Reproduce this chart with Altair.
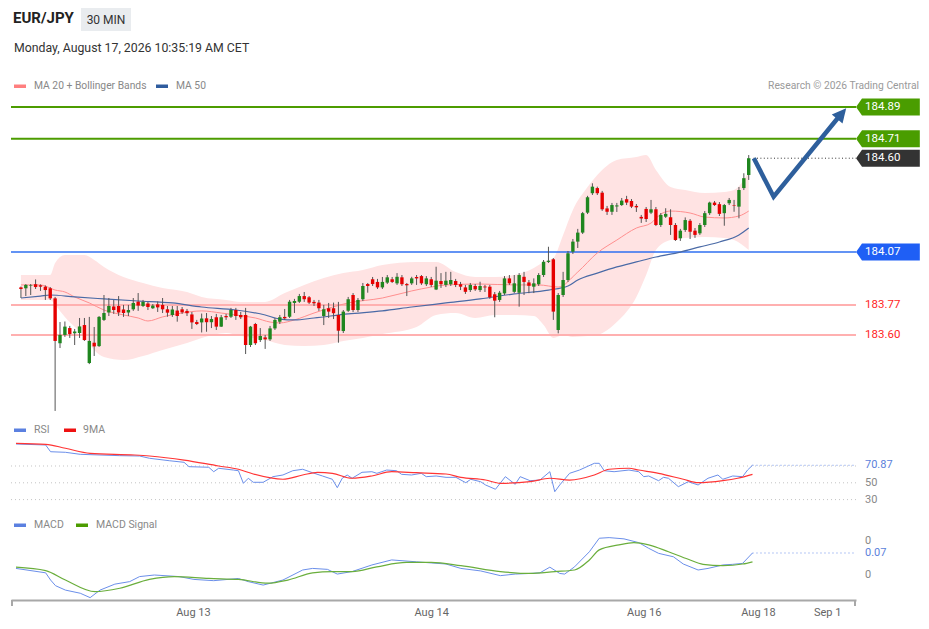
import altair as alt
import pandas as pd

# ---------------- data ----------------
opens = [
    183.869, 183.864, 183.877, 183.887, 183.881, 183.873, 183.864, 183.807, 183.553, 183.600,
    183.639, 183.609, 183.611, 183.656, 183.441, 183.556, 183.537, 183.685, 183.727, 183.761,
    183.764, 183.744, 183.727, 183.745, 183.788, 183.764, 183.778, 183.751, 183.773, 183.770,
    183.745, 183.713, 183.738, 183.745, 183.736, 183.716, 183.673, 183.671, 183.694, 183.672,
    183.700, 183.647, 183.707, 183.703, 183.741, 183.713, 183.713, 183.543, 183.662, 183.571,
    183.586, 183.575, 183.637, 183.675, 183.702, 183.703, 183.781, 183.788, 183.820, 183.813,
    183.787, 183.783, 183.707, 183.751, 183.751, 183.713, 183.622, 183.737, 183.826, 183.741,
    183.802, 183.888, 183.915, 183.900, 183.869, 183.896, 183.915, 183.892, 183.926, 183.888,
    183.892, 183.928, 183.933, 183.887, 183.915, 183.857, 183.905, 183.883, 183.887, 183.905,
    183.887, 183.869, 183.854, 183.877, 183.854, 183.874, 183.873, 183.830, 183.798, 183.835,
    183.920, 183.844, 183.839, 183.929, 183.897, 183.873, 183.887, 183.939, 184.013, 184.028,
    183.628, 183.826, 183.911, 184.071, 184.128, 184.179, 184.292, 184.402, 184.431, 184.405,
    184.316, 184.297, 184.327, 184.335, 184.368, 184.358, 184.330, 184.268, 184.313, 184.292,
    184.311, 184.222, 184.269, 184.266, 184.222, 184.147, 184.194, 184.246, 184.190, 184.175,
    184.222, 184.289, 184.349, 184.340, 184.289, 184.345, 184.333, 184.326, 184.431, 184.505,
]
highs = [
    183.874, 183.888, 183.888, 183.914, 183.886, 183.880, 183.871, 183.815, 183.673, 183.676,
    183.651, 183.634, 183.696, 183.696, 183.702, 183.645, 183.707, 183.826, 183.809, 183.798,
    183.820, 183.770, 183.770, 183.809, 183.837, 183.798, 183.787, 183.775, 183.789, 183.809,
    183.764, 183.764, 183.764, 183.758, 183.747, 183.730, 183.685, 183.721, 183.724, 183.707,
    183.719, 183.713, 183.719, 183.753, 183.753, 183.730, 183.753, 183.651, 183.668, 183.639,
    183.600, 183.651, 183.696, 183.713, 183.747, 183.798, 183.804, 183.832, 183.843, 183.820,
    183.798, 183.798, 183.770, 183.781, 183.783, 183.787, 183.741, 183.815, 183.837, 183.809,
    183.894, 183.894, 183.928, 183.917, 183.928, 183.939, 183.928, 183.950, 183.939, 183.894,
    183.929, 183.939, 183.939, 183.933, 183.928, 183.986, 183.950, 183.957, 183.957, 183.917,
    183.900, 183.883, 183.894, 183.888, 183.901, 183.883, 183.883, 183.843, 183.849, 183.933,
    183.939, 183.939, 183.950, 183.957, 183.911, 183.920, 183.950, 184.024, 184.099, 184.035,
    183.837, 183.957, 184.075, 184.143, 184.200, 184.296, 184.387, 184.458, 184.439, 184.415,
    184.330, 184.347, 184.347, 184.375, 184.387, 184.369, 184.341, 184.279, 184.324, 184.364,
    184.324, 184.290, 184.317, 184.311, 184.233, 184.200, 184.265, 184.256, 184.205, 184.233,
    184.301, 184.354, 184.358, 184.352, 184.341, 184.375, 184.364, 184.437, 184.515, 184.618,
]
lows = [
    183.809, 183.820, 183.826, 183.860, 183.849, 183.798, 183.798, 183.170, 183.526, 183.589,
    183.583, 183.543, 183.583, 183.566, 183.435, 183.481, 183.532, 183.679, 183.707, 183.719,
    183.707, 183.702, 183.707, 183.736, 183.736, 183.758, 183.741, 183.747, 183.730, 183.724,
    183.703, 183.702, 183.675, 183.719, 183.707, 183.634, 183.656, 183.614, 183.618, 183.639,
    183.628, 183.645, 183.685, 183.696, 183.685, 183.690, 183.492, 183.532, 183.543, 183.560,
    183.521, 183.566, 183.628, 183.662, 183.685, 183.696, 183.724, 183.781, 183.787, 183.775,
    183.764, 183.736, 183.656, 183.696, 183.690, 183.556, 183.611, 183.730, 183.730, 183.730,
    183.792, 183.839, 183.877, 183.860, 183.860, 183.888, 183.894, 183.883, 183.877, 183.820,
    183.883, 183.883, 183.883, 183.877, 183.871, 183.854, 183.866, 183.871, 183.877, 183.871,
    183.854, 183.832, 183.843, 183.849, 183.843, 183.843, 183.804, 183.700, 183.787, 183.826,
    183.883, 183.837, 183.760, 183.826, 183.836, 183.837, 183.877, 183.928, 184.007, 183.685,
    183.609, 183.815, 183.900, 184.058, 184.092, 184.171, 184.284, 184.392, 184.392, 184.302,
    184.279, 184.279, 184.296, 184.330, 184.335, 184.318, 184.296, 184.234, 184.239, 184.284,
    184.216, 184.211, 184.262, 184.166, 184.132, 184.132, 184.183, 184.143, 184.149, 184.166,
    184.211, 184.279, 184.330, 184.273, 184.218, 184.335, 184.297, 184.260, 184.420, 184.477,
]
closes = [
    183.860, 183.883, 183.880, 183.871, 183.873, 183.854, 183.807, 183.566, 183.600, 183.647,
    183.605, 183.620, 183.648, 183.571, 183.566, 183.535, 183.702, 183.724, 183.764, 183.741,
    183.727, 183.724, 183.741, 183.781, 183.766, 183.787, 183.758, 183.766, 183.756, 183.745,
    183.726, 183.744, 183.707, 183.728, 183.723, 183.671, 183.662, 183.693, 183.672, 183.690,
    183.647, 183.700, 183.700, 183.741, 183.707, 183.700, 183.543, 183.647, 183.553, 183.594,
    183.575, 183.637, 183.685, 183.700, 183.694, 183.788, 183.792, 183.820, 183.802, 183.783,
    183.779, 183.751, 183.745, 183.732, 183.723, 183.624, 183.732, 183.802, 183.741, 183.798,
    183.877, 183.877, 183.888, 183.869, 183.900, 183.926, 183.900, 183.929, 183.887, 183.881,
    183.920, 183.920, 183.892, 183.920, 183.883, 183.907, 183.887, 183.907, 183.911, 183.883,
    183.873, 183.844, 183.883, 183.858, 183.877, 183.869, 183.813, 183.794, 183.839, 183.920,
    183.892, 183.892, 183.939, 183.900, 183.878, 183.892, 183.939, 184.014, 184.020, 183.732,
    183.826, 183.911, 184.062, 184.128, 184.179, 184.289, 184.379, 184.439, 184.402, 184.311,
    184.297, 184.335, 184.333, 184.360, 184.349, 184.326, 184.322, 184.259, 184.256, 184.311,
    184.222, 184.279, 184.285, 184.222, 184.137, 184.190, 184.250, 184.184, 184.166, 184.222,
    184.289, 184.349, 184.335, 184.285, 184.335, 184.364, 184.330, 184.420, 184.487, 184.600,
]

band_idx = [0, 6, 7, 9, 13, 15, 17, 21, 25, 29, 34, 37, 42, 45, 50, 54, 58, 62, 66, 70, 74, 81,
            85, 89, 93, 97, 101, 105, 107, 109, 111, 113, 116, 118, 122, 126, 128, 130, 133, 136,
            140, 144, 146, 149]
band_upper = [183.939, 183.939, 184.007, 184.052, 184.052, 184.024, 183.985, 183.928, 183.894,
              183.866, 183.843, 183.815, 183.798, 183.787, 183.787, 183.837, 183.883, 183.922,
              183.950, 183.968, 183.996, 184.013, 184.013, 183.956, 183.928, 183.928, 183.939,
              183.979, 184.013, 184.035, 184.166, 184.307, 184.437, 184.505, 184.590, 184.607,
              184.618, 184.533, 184.437, 184.420, 184.403, 184.409, 184.420, 184.522]
band_lower = [183.798, 183.798, 183.770, 183.702, 183.589, 183.515, 183.475, 183.458, 183.481,
              183.515, 183.554, 183.583, 183.611, 183.594, 183.571, 183.543, 183.537, 183.543,
              183.566, 183.583, 183.605, 183.645, 183.713, 183.724, 183.696, 183.713, 183.713,
              183.707, 183.656, 183.583, 183.600, 183.589, 183.594, 183.600, 183.673, 183.815,
              183.939, 184.081, 184.137, 184.149, 184.154, 184.149, 184.137, 184.081]

ma20_idx = [0, 4, 7, 9, 11, 14, 17, 21, 24, 26, 29, 33, 37, 41, 44, 48, 51, 53, 56, 60, 67, 74,
            80, 84, 87, 94, 101, 106, 110, 114, 118, 122, 126, 129, 131, 133, 137, 140, 144, 147, 149]
ma20 = [183.883, 183.883, 183.854, 183.843, 183.815, 183.781, 183.741, 183.713, 183.696, 183.679,
        183.702, 183.724, 183.736, 183.724, 183.713, 183.696, 183.673, 183.668, 183.685, 183.724,
        183.781, 183.809, 183.849, 183.871, 183.883, 183.888, 183.883, 183.883, 183.871, 183.956,
        184.064, 184.137, 184.205, 184.233, 184.284, 184.301, 184.290, 184.267, 184.262, 184.273,
        184.301]

ma50_idx = [0, 4, 6, 11, 17, 24, 31, 37, 44, 50, 53, 56, 60, 67, 74, 80, 87, 94, 101, 108, 112,
            114, 118, 122, 126, 130, 135, 139, 143, 147, 149]
ma50 = [183.809, 183.820, 183.826, 183.815, 183.804, 183.792, 183.781, 183.758, 183.741, 183.713,
        183.690, 183.685, 183.696, 183.719, 183.736, 183.758, 183.781, 183.804, 183.832, 183.854,
        183.877, 183.911, 183.950, 183.985, 184.013, 184.041, 184.069, 184.098, 184.126, 184.166,
        184.205]

level_prices = [184.89, 184.71, 184.60, 184.07, 183.77, 183.60]
level_texts = ["184.89", "184.71", "184.60", "184.07", "183.77", "183.60"]
level_kinds = ["resistance", "resistance", "last", "pivot", "support", "support"]

arrow_idx = [150.05, 154.1, 167.5]
arrow_price = [184.600, 184.382, 184.836]
arrow_head_idx = [167.93]
arrow_head_price = [184.849]

rsi_idx = [0, 6, 7, 10, 13, 21, 25, 27, 31, 34, 35, 39, 40, 41, 44, 45, 46, 47, 48, 50, 52, 54,
           56, 58, 60, 62, 64, 65, 66, 67, 68, 70, 72, 73, 75, 77, 78, 80, 82, 83, 85, 87, 89, 91,
           92, 94, 95, 97, 99, 101, 102, 104, 106, 108, 109, 110, 112, 114, 117, 118, 119, 121,
           124, 126, 127, 128, 130, 131, 132, 134, 136, 138, 140, 142, 143, 145, 147, 148, 149]
rsi = [96.2, 95.0, 87.0, 86.3, 83.9, 82.3, 81.9, 79.2, 76.3, 74.4, 69.2, 68.5, 63.2, 67.3, 65.2,
       64.4, 49.4, 55.4, 50.6, 50.6, 57.3, 59.3, 64.4, 66.1, 62.0, 58.1, 54.2, 44.2, 55.4, 59.3,
       55.4, 62.5, 63.2, 61.3, 65.2, 64.4, 60.1, 59.3, 61.3, 57.3, 58.1, 56.5, 56.5, 50.1, 54.2,
       51.3, 47.4, 42.3, 57.3, 48.2, 57.3, 52.5, 53.3, 63.2, 39.4, 47.4, 61.3, 65.2, 73.2, 73.2,
       64.4, 63.2, 65.2, 63.2, 57.3, 58.1, 52.5, 56.5, 55.4, 45.4, 51.3, 47.4, 55.4, 59.3, 54.2,
       58.1, 57.3, 65.2, 70.87]
rsima_idx = [0, 6, 10, 15, 24, 27, 34, 41, 45, 48, 54, 58, 61, 64, 68, 72, 76, 81, 87, 90, 95,
             98, 104, 108, 112, 117, 120, 124, 126, 130, 135, 138, 143, 146, 149]
rsima = [97.0, 95.8, 91.1, 85.1, 83.1, 81.9, 77.1, 70.0, 66.1, 60.5, 54.2, 59.3, 62.5, 61.3, 55.4,
         58.1, 63.2, 62.0, 60.5, 56.5, 53.3, 49.4, 51.3, 55.4, 53.3, 59.3, 66.1, 67.3, 65.2, 61.3,
         54.2, 50.1, 52.5, 55.4, 60.1]
rsi_levels = [70, 50, 30]
rsi_label_vals = [70.87, 50, 30]
rsi_label_texts = ["70.87", "50", "30"]
rsi_label_kinds = ["last", "level", "level"]

macd_idx = [0, 6, 7, 8, 10, 13, 15, 17, 20, 23, 25, 28, 33, 36, 40, 45, 47, 50, 54, 58, 60, 63,
            65, 68, 72, 76, 81, 87, 90, 94, 98, 101, 104, 106, 108, 110, 111, 113, 116, 118, 120,
            123, 126, 128, 130, 133, 135, 138, 140, 143, 145, 147, 149]
macd = [0.021, 0.007, -0.016, -0.034, -0.048, -0.058, -0.072, -0.048, -0.029, -0.021, -0.005,
        0.000, -0.005, -0.014, -0.018, -0.011, -0.021, -0.032, -0.016, 0.016, 0.021, 0.018, 0.003,
        0.011, 0.032, 0.048, 0.042, 0.035, 0.021, 0.013, -0.002, 0.003, 0.005, 0.007, 0.025,
        0.005, 0.003, 0.026, 0.074, 0.117, 0.119, 0.115, 0.103, 0.085, 0.069, 0.058, 0.035,
        0.016, 0.021, 0.032, 0.034, 0.037, 0.070]
sig_idx = [0, 6, 10, 16, 21, 27, 32, 39, 45, 51, 55, 60, 64, 68, 73, 79, 84, 90, 98, 104, 109,
           113, 116, 118, 122, 125, 128, 132, 136, 139, 143, 147, 149]
sig = [0.025, 0.014, -0.016, -0.053, -0.042, -0.014, -0.005, -0.011, -0.014, -0.026, -0.016,
       0.007, 0.011, 0.011, 0.026, 0.040, 0.040, 0.030, 0.011, 0.005, 0.011, 0.016, 0.048, 0.080,
       0.096, 0.103, 0.096, 0.074, 0.050, 0.034, 0.030, 0.035, 0.042]
macd_label_vals = [0.108, 0.07, 0.0]
macd_label_texts = ["0", "0.07", "0"]
macd_label_kinds = ["level", "last", "level"]

tick_pos = [35.8, 84.0, 127.0, 150.1, 164.1]
tick_labels = ["Aug 13", "Aug 14", "Aug 16", "Aug 18", "Sep 1"]

# ---------------- layout / style ----------------
W = 845
H_PRICE, H_RSI, H_MACD = 410, 94, 88
FONT = "Roboto"
n = len(closes)

candles = pd.DataFrame({"i": list(range(n)), "open": opens, "high": highs,
                        "low": lows, "close": closes})
band_df = pd.DataFrame({"i": band_idx, "upper": band_upper, "lower": band_lower})
ma20_df = pd.DataFrame({"i": ma20_idx, "v": ma20})
ma50_df = pd.DataFrame({"i": ma50_idx, "v": ma50})
levels = pd.DataFrame({"price": level_prices, "text": level_texts, "kind": level_kinds})
arrow_df = pd.DataFrame({"i": arrow_idx, "price": arrow_price})
head_df = pd.DataFrame({"i": arrow_head_idx, "price": arrow_head_price})
rsi_df = pd.DataFrame({"i": rsi_idx, "v": rsi})
rsima_df = pd.DataFrame({"i": rsima_idx, "v": rsima})
rsi_lv = pd.DataFrame({"v": rsi_levels})
rsi_lab = pd.DataFrame({"v": rsi_label_vals, "text": rsi_label_texts, "kind": rsi_label_kinds})
macd_df = pd.DataFrame({"i": macd_idx, "v": macd})
sig_df = pd.DataFrame({"i": sig_idx, "v": sig})
macd_lab = pd.DataFrame({"v": macd_label_vals, "text": macd_label_texts, "kind": macd_label_kinds})
one = pd.DataFrame({"k": [0]})

xs = alt.Scale(domain=[-1.01, 169.94], nice=False, zero=False)
ps = alt.Scale(domain=[183.130, 185.450], nice=False, zero=False)
rs = alt.Scale(domain=[15.24, 127.14], nice=False, zero=False)
ms = alt.Scale(domain=[-0.0795, 0.2005], nice=False, zero=False)


def X(field="i", axis=None):
    return alt.X(f"{field}:Q", scale=xs, axis=axis)


def text_at(txt, x, y, size=10.5, color="#888888", weight="normal", align="left"):
    return alt.Chart(one).mark_text(
        text=txt, align=align, baseline="middle", font=FONT, fontSize=size,
        fontWeight=weight, color=color
    ).encode(x=alt.value(x), y=alt.value(y))


def swatch(x0, x1, y0, y1, color):
    return alt.Chart(one).mark_rect(color=color).encode(
        x=alt.value(x0), x2=alt.value(x1), y=alt.value(y0), y2=alt.value(y1))


def kind_filter(chart, kind):
    return chart.transform_filter(f"datum.kind == '{kind}'")


PY = lambda f: alt.Y(f"{f}:Q", scale=ps, axis=None)
lev = alt.Chart(levels)

band_layer = alt.Chart(band_df).mark_area(color="#ffe3e3", interpolate="monotone").encode(
    x=X(), y=PY("upper"), y2="lower")

support_lines = kind_filter(lev, "support").mark_rule(color="#ffb0b0", strokeWidth=2).encode(
    y=PY("price"))
resist_lines = kind_filter(lev, "resistance").mark_rule(color="#4c9c00", strokeWidth=2).encode(
    y=PY("price"))
pivot_line = kind_filter(lev, "pivot").mark_rule(color="#2f6ff0", strokeWidth=1.5).encode(
    y=PY("price"))

ma20_line = alt.Chart(ma20_df).mark_line(color="#ff8f8f", strokeWidth=1,
                                         interpolate="monotone").encode(x=X(), y=PY("v"))
ma50_line = alt.Chart(ma50_df).mark_line(color="#4a6aa6", strokeWidth=1.2,
                                         interpolate="monotone").encode(x=X(), y=PY("v"))

wicks = alt.Chart(candles).mark_rule(color="#555555", strokeWidth=1).encode(
    x=X(), y=PY("low"), y2="high")
bodies = alt.Chart(candles).mark_bar(size=3.4).encode(
    x=X(), y=PY("open"), y2="close",
    color=alt.condition("datum.close >= datum.open", alt.value("#1f861f"), alt.value("#e60000")))

last_dotted = kind_filter(lev, "last").transform_calculate(start=f"{n}").mark_rule(
    color="#333333", strokeDash=[1, 2.4], strokeWidth=1).encode(
    x=X("start"), x2=alt.value(W), y=PY("price"))

arrow_line = alt.Chart(arrow_df).mark_line(color="#2e5f9c", strokeWidth=4.5, strokeJoin="miter",
                                           strokeCap="butt").encode(x=X(), y=PY("price"))
arrow_head = alt.Chart(head_df).mark_point(
    shape="M0,-1L0.9,0.8L-0.9,0.8Z", filled=True, size=243, angle=40, opacity=1,
    color="#2e5f9c", strokeWidth=0).encode(x=X(), y=PY("price"))

box_path = "M-0.7,0L0,-1L6.8,-1L6.8,1L0,1Z"


def box(kind, color):
    return kind_filter(lev, kind).mark_point(
        shape=box_path, filled=True, size=289, opacity=1, strokeWidth=0, color=color
    ).encode(x=alt.value(851), y=PY("price"))


def box_text(kind, color):
    return kind_filter(lev, kind).mark_text(
        align="left", baseline="middle", font=FONT, fontSize=11.5, color=color
    ).encode(x=alt.value(854), y=PY("price"), text="text:N")


price_labels = [
    box("resistance", "#4a9d00"), box("last", "#333333"), box("pivot", "#1f5ff5"),
    box_text("resistance", "#ffffff"), box_text("last", "#ffffff"),
    box_text("pivot", "#ffffff"), box_text("support", "#ff1f1f"),
]

header = [
    text_at("EUR/JPY", 2, 10, size=15, color="#222222", weight="bold"),
    swatch(70, 120, 0, 23, "#e9ecef"),
    text_at("30 MIN", 95, 11.5, size=12, color="#333333", align="center"),
    text_at("Monday, August 17, 2026 10:35:19 AM CET", 3, 40, size=12.3, color="#333333"),
    swatch(3, 15, 76.5, 80, "#ff7f7f"),
    text_at("MA 20 + Bollinger Bands", 23, 78, size=10.3),
    swatch(145, 157, 76.5, 80, "#2f5c9e"),
    text_at("MA 50", 165, 78, size=10.3),
    text_at("Research \u00a9 2026 Trading Central", 908, 78, size=10.3, color="#9a9a9a",
            align="right"),
]

price_panel = alt.layer(
    band_layer, support_lines, resist_lines, pivot_line, ma20_line, ma50_line,
    wicks, bodies, last_dotted, arrow_line, arrow_head, *price_labels, *header
).properties(width=W, height=H_PRICE)

# ---------------- RSI panel ----------------
RY = lambda f: alt.Y(f"{f}:Q", scale=rs, axis=None)
rlab = alt.Chart(rsi_lab)
rsi_grid = alt.Chart(rsi_lv).mark_rule(color="#c4c4c4", strokeDash=[1, 3], strokeWidth=1).encode(
    y=RY("v"))
rsi_line = alt.Chart(rsi_df).mark_line(color="#6b8fea", strokeWidth=1).encode(x=X(), y=RY("v"))
rsima_line = alt.Chart(rsima_df).mark_line(color="#ff3535", strokeWidth=1.2,
                                           interpolate="monotone").encode(x=X(), y=RY("v"))
rsi_last = kind_filter(rlab, "last").transform_calculate(start=f"{n - 1}").mark_rule(
    color="#6b8fea", strokeDash=[1, 3], strokeWidth=1).encode(
    x=X("start"), x2=alt.value(W), y=RY("v"))
rsi_label_last = kind_filter(rlab, "last").mark_text(
    align="left", baseline="middle", font=FONT, fontSize=11, color="#5b7fdb").encode(
    x=alt.value(854), y=RY("v"), text="text:N")
rsi_label_lv = kind_filter(rlab, "level").mark_text(
    align="left", baseline="middle", font=FONT, fontSize=11, color="#888888").encode(
    x=alt.value(854), y=RY("v"), text="text:N")
rsi_panel = alt.layer(
    rsi_grid, rsi_line, rsima_line, rsi_last, rsi_label_last, rsi_label_lv,
    swatch(3, 15, 10.5, 14, "#5b80e0"), text_at("RSI", 23, 12),
    swatch(53, 65, 10.5, 14, "#ee1111"), text_at("9MA", 72, 12),
).properties(width=W, height=H_RSI)

# ---------------- MACD panel ----------------
label_expr = " : ".join(f"datum.value == {p} ? '{t}'" for p, t in zip(tick_pos, tick_labels)) + " : ''"
bottom_axis = alt.Axis(values=tick_pos, labelExpr=label_expr, ticks=False, grid=False,
                       domainColor="#a8a8a8", domainWidth=2, labelColor="#666666",
                       labelFont=FONT, labelFontSize=11, labelPadding=6, title=None,
                       labelFlush=False, labelOverlap=False)
MY = lambda f: alt.Y(f"{f}:Q", scale=ms, axis=None)
mlab = alt.Chart(macd_lab)
macd_line = alt.Chart(macd_df).mark_line(color="#6b8fea", strokeWidth=1).encode(
    x=X(axis=bottom_axis), y=MY("v"))
sig_line = alt.Chart(sig_df).mark_line(color="#6aae3c", strokeWidth=1.2,
                                       interpolate="monotone").encode(
    x=X(axis=bottom_axis), y=MY("v"))
macd_last = kind_filter(mlab, "last").transform_calculate(start=f"{n - 1}").mark_rule(
    color="#6b8fea", strokeDash=[1, 3], strokeWidth=1).encode(
    x=X("start", axis=bottom_axis), x2=alt.value(W), y=MY("v"))
macd_label_lv = kind_filter(mlab, "level").mark_text(
    align="left", baseline="middle", font=FONT, fontSize=11, color="#888888").encode(
    x=alt.value(854), y=MY("v"), text="text:N")
macd_label_last = kind_filter(mlab, "last").mark_text(
    align="left", baseline="middle", font=FONT, fontSize=11, color="#5b7fdb").encode(
    x=alt.value(854), y=MY("v"), text="text:N")
cap_l = alt.Chart(one).mark_rule(color="#a8a8a8", strokeWidth=2).encode(
    x=alt.value(1), y=alt.value(H_MACD), y2=alt.value(H_MACD + 6))
cap_r = alt.Chart(one).mark_rule(color="#a8a8a8", strokeWidth=2).encode(
    x=alt.value(W - 1), y=alt.value(H_MACD), y2=alt.value(H_MACD + 6))
macd_panel = alt.layer(
    macd_line, sig_line, macd_last, macd_label_lv, macd_label_last, cap_l, cap_r,
    swatch(3, 15, 11.5, 15, "#5b80e0"), text_at("MACD", 23, 13),
    swatch(65, 77, 11.5, 15, "#4c9c00"), text_at("MACD Signal", 85, 13),
).properties(width=W, height=H_MACD)

chart = alt.vconcat(
    price_panel, rsi_panel, macd_panel, spacing=0, bounds="flush",
    padding={"left": 2, "top": 0, "right": 0, "bottom": 2}
).configure(
    background="white", font=FONT,
    view=alt.ViewConfig(stroke="transparent", strokeWidth=0),
)

chart.save("out.html", embed_options={"renderer": "svg", "actions": False})
